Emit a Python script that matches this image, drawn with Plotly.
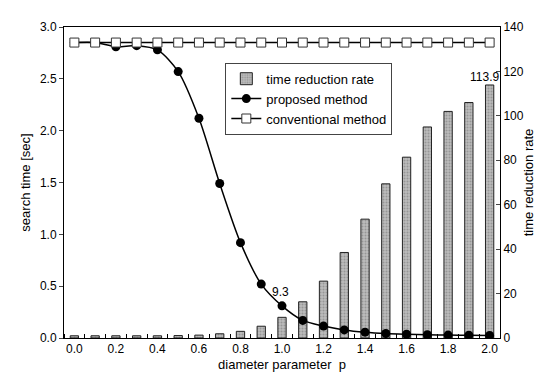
import plotly.graph_objects as go

p_values = [0.0, 0.1, 0.2, 0.3, 0.4, 0.5, 0.6, 0.7, 0.8, 0.9, 1.0,
            1.1, 1.2, 1.3, 1.4, 1.5, 1.6, 1.7, 1.8, 1.9, 2.0]
reduction_rate = [1.0, 1.0, 1.0, 1.0, 1.0, 1.1, 1.3, 1.9, 3.0, 5.3, 9.3,
                  16.3, 25.6, 38.5, 53.5, 69.4, 81.4, 95.0, 102.0, 106.0, 113.9]
proposed_time = [2.85, 2.85, 2.81, 2.82, 2.78, 2.57, 2.12, 1.49, 0.92, 0.52, 0.31,
                 0.17, 0.115, 0.078, 0.056, 0.043, 0.036, 0.031, 0.028, 0.027, 0.025]
conventional_time = [2.85] * 21
x_tick_labels = ["0.0", "0.2", "0.4", "0.6", "0.8", "1.0", "1.2", "1.4", "1.6", "1.8", "2.0"]
rate_labels = [(1.0, "9.3", 20.6, -2), (2.0, "113.9", 117.5, -5)]

FONT = "Liberation Sans, Arial, sans-serif"

fig = go.Figure()
fig.add_trace(go.Bar(
    x=p_values, y=reduction_rate, name="time reduction rate", yaxis="y",
    width=0.04,
    marker=dict(color="#b0b0b0", line=dict(color="#222", width=1),
                pattern=dict(shape=".", fgcolor="#707070", bgcolor="#bdbdbd", size=3, solidity=0.4)),
))
fig.add_trace(go.Scatter(
    x=p_values, y=proposed_time, name="proposed method", yaxis="y2",
    mode="lines+markers", line=dict(color="black", width=1.5, shape="spline", smoothing=0.8),
    marker=dict(symbol="circle", size=9, color="black"),
))
fig.add_trace(go.Scatter(
    x=p_values, y=conventional_time, name="conventional method", yaxis="y2",
    mode="lines+markers", line=dict(color="black", width=1.5),
    marker=dict(symbol="square", size=9, color="white", line=dict(color="#333", width=1)),
))

for xv, txt, yv, shift in rate_labels:
    fig.add_annotation(x=xv, y=yv, xref="x", yref="y", text=txt, showarrow=False, xshift=shift,
                       font=dict(family=FONT, size=12, color="black"))

minor_vals = [round(v - 0.05, 2) for v in p_values] + [round(p_values[-1] + 0.05, 2)]

fig.update_layout(
    width=545, height=374,
    margin=dict(l=56, r=53, t=16, b=39),
    paper_bgcolor="white", plot_bgcolor="white",
    font=dict(family=FONT, size=12, color="black"),
    showlegend=True,
    legend=dict(x=0.37, y=0.885, xanchor="left", yanchor="top",
                bgcolor="white", bordercolor="#444", borderwidth=1,
                font=dict(family=FONT, size=13), itemwidth=30),
    xaxis=dict(range=[-0.05, 2.05], tickvals=[p_values[i] for i in range(0, 21, 2)],
               ticktext=x_tick_labels, ticks="", showgrid=False, zeroline=False,
               showline=True, linecolor="black", linewidth=1, mirror=True,
               minor=dict(tickvals=minor_vals, ticks="inside", ticklen=4, tickcolor="black"),
               title=dict(text="diameter parameter  p", font=dict(size=13), standoff=4),
               tickfont=dict(size=12)),
    yaxis=dict(range=[0, 140], side="right", dtick=20, ticks="inside", ticklen=4,
               showgrid=False, zeroline=False, showline=True, linecolor="black", linewidth=1,
               title=dict(text="time reduction rate", font=dict(size=13), standoff=1),
               tickfont=dict(size=12)),
    yaxis2=dict(range=[0, 3.0], side="left", overlaying="y", dtick=0.5, tickformat=".1f",
                ticks="outside", ticklen=4, showgrid=False, zeroline=False, showline=True,
                linecolor="black", linewidth=1,
                title=dict(text="search time [sec]", font=dict(size=13), standoff=6),
                tickfont=dict(size=12)),
    bargap=0.6,
)

fig.write_html("out.html")
